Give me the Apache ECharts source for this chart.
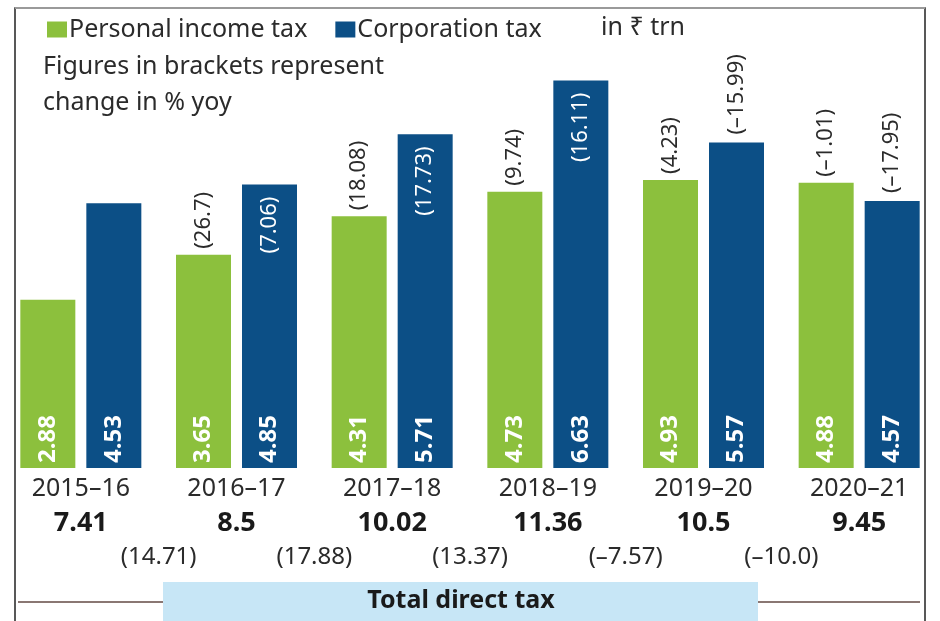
<!DOCTYPE html>
<html>
<head>
<meta charset="utf-8">
<script src="https://cdn.jsdelivr.net/npm/echarts@6/dist/echarts.min.js"></script>
<style>
  html, body { margin: 0; padding: 0; background: #fff; }
  #chart { width: 940px; height: 621px; }
</style>
</head>
<body>
<div id="chart"></div>
<script>
// data, in ₹ trn
const years = ['2015–16', '2016–17', '2017–18', '2018–19', '2019–20', '2020–21'];
const personalTax = [2.88, 3.65, 4.31, 4.73, 4.93, 4.88];
const corporationTax = [4.53, 4.85, 5.71, 6.63, 5.57, 4.57];
// % change yoy (strings so the printed form is kept)
const personalYoy = [null, '26.7', '18.08', '9.74', '4.23', '-1.01'];
const corporationYoy = [null, '7.06', '17.73', '16.11', '-15.99', '-17.95'];
const totalTax = ['7.41', '8.5', '10.02', '11.36', '10.5', '9.45'];
const totalYoy = ['14.71', '17.88', '13.37', '-7.57', '-10.0'];

const FONT = '"Noto Sans", "Open Sans", sans-serif';
const GREEN = '#8cc03d';
const BLUE = '#0c4f86';
const TEXT = '#2b2b2b';

const bracket = v => '(' + String(v).replace('-', '\u2013') + ')';

const chart = echarts.init(document.getElementById('chart'));

// label inside the blue bar (positive change) or above it (negative)
const corpLabel = v => {
  if (v !== null && Number(v) < 0) {
    return {position: 'top', align: 'left', distance: 8, color: TEXT};
  }
  return {position: 'insideTop', align: 'right', distance: 12, color: '#fff'};
};

const option = {
  backgroundColor: '#fff',
  animation: false,
  textStyle: {fontFamily: FONT},
  title: [
    {
      text: 'Figures in brackets represent\nchange in % yoy',
      left: 38, top: 44,
      textStyle: {fontFamily: FONT, fontSize: 25, fontWeight: 'normal', color: TEXT, lineHeight: 36}
    },
    {
      text: 'in ₹ trn',
      left: 596, top: 10,
      textStyle: {fontFamily: FONT, fontSize: 25, fontWeight: 'normal', color: TEXT}
    }
  ],
  legend: {
    left: 42, top: 12,
    itemWidth: 20, itemHeight: 16, itemGap: 28,
    icon: 'rect',
    data: ['Personal income tax', 'Corporation tax'],
    textStyle: {fontFamily: FONT, fontSize: 25, color: TEXT, padding: [0, 0, 0, -3]}
  },
  grid: {left: 1, right: 2, top: 59, bottom: 153, containLabel: false},
  xAxis: [
    {
      type: 'category',
      data: years,
      axisLine: {show: false},
      axisTick: {show: false},
      axisLabel: {
        margin: 4,
        interval: 0,
        formatter: (v, i) => '{y|' + v + '}\n{t|' + totalTax[i] + '}',
        rich: {
          y: {fontFamily: FONT, fontSize: 25, color: TEXT, lineHeight: 34},
          t: {fontFamily: FONT, fontSize: 27, fontWeight: 'bold', color: '#1a1a1a', lineHeight: 34}
        }
      }
    },
    {
      type: 'value',
      min: 0, max: 6, interval: 1,
      position: 'bottom',
      axisLine: {show: false},
      axisTick: {show: false},
      splitLine: {show: false},
      axisLabel: {
        margin: 76,
        fontFamily: FONT, fontSize: 24, color: TEXT, lineHeight: 26,
        formatter: v => (v > 0 && v < 6) ? bracket(totalYoy[v - 1]) : ''
      }
    }
  ],
  yAxis: {type: 'value', min: 0, max: 7, show: false},
  series: [
    {
      name: 'Personal income tax',
      type: 'bar',
      stack: 'pit',
      barWidth: 55,
      barGap: '20%',
      itemStyle: {color: GREEN},
      data: personalTax,
      label: {
        show: true, position: 'insideBottom', rotate: 90,
        align: 'left', verticalAlign: 'middle', distance: 5,
        color: '#fff', fontFamily: FONT, fontSize: 24, fontWeight: 'bold'
      }
    },
    {
      name: 'pit-yoy',
      type: 'bar',
      stack: 'pit',
      barWidth: 55,
      silent: true,
      itemStyle: {color: GREEN},
      data: personalYoy.map(() => 0),
      label: {
        show: true, position: 'top', rotate: 90,
        align: 'left', verticalAlign: 'middle', distance: 6,
        color: TEXT, fontFamily: FONT, fontSize: 22,
        formatter: p => personalYoy[p.dataIndex] === null ? '' : bracket(personalYoy[p.dataIndex])
      }
    },
    {
      name: 'Corporation tax',
      type: 'bar',
      stack: 'ct',
      barWidth: 55,
      barGap: '20%',
      itemStyle: {color: BLUE},
      data: corporationTax,
      label: {
        show: true, position: 'insideBottom', rotate: 90,
        align: 'left', verticalAlign: 'middle', distance: 5,
        color: '#fff', fontFamily: FONT, fontSize: 24, fontWeight: 'bold'
      }
    },
    {
      name: 'ct-yoy',
      type: 'bar',
      stack: 'ct',
      barWidth: 55,
      barGap: '20%',
      silent: true,
      itemStyle: {color: BLUE},
      data: corporationYoy.map(v => ({value: 0, label: corpLabel(v)})),
      label: {
        show: true, rotate: 90, verticalAlign: 'middle',
        fontFamily: FONT, fontSize: 22,
        formatter: p => corporationYoy[p.dataIndex] === null ? '' : bracket(corporationYoy[p.dataIndex])
      }
    }
  ],
  graphic: [
    // frame
    {type: 'polyline', silent: true, shape: {points: [[15, 621], [15, 8], [925, 8], [925, 621]]},
      style: {stroke: '#222', lineWidth: 1.5, fill: null}},
    {type: 'line', silent: true, shape: {x1: 15, y1: 8, x2: 925, y2: 8}, style: {stroke: '#9a9a9a', lineWidth: 2}},
    // bottom rule with the "Total direct tax" tab
    {type: 'line', silent: true, shape: {x1: 18, y1: 602, x2: 920, y2: 602}, style: {stroke: '#8a7773', lineWidth: 2}},
    {type: 'rect', silent: true, shape: {x: 163, y: 582, width: 595, height: 39}, style: {fill: '#c7e6f6'}},
    {type: 'text', silent: true, x: 461, y: 601,
      style: {text: 'Total direct tax', fill: '#1a1a1a', font: 'bold 25px ' + FONT, align: 'center', verticalAlign: 'middle'}}
  ]
};

chart.setOption(option);
</script>
</body>
</html>
